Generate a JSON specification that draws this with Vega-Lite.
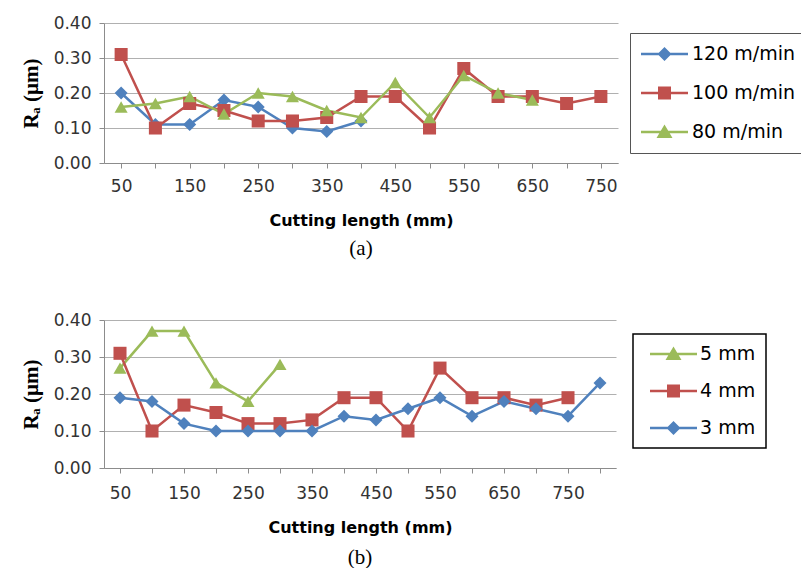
{
  "$schema": "https://vega.github.io/schema/vega-lite/v6.json",
  "background": "white",
  "padding": {"left": 20, "top": 14, "right": 0, "bottom": 0},
  "spacing": 52,
  "config": {
    "view": {"stroke": null},
    "axis": {
      "labelFont": "DejaVu Sans", "labelFontSize": 17, "labelColor": "#333333",
      "domainColor": "#8c8c8c", "tickColor": "#8c8c8c", "tickSize": 5,
      "gridColor": "#b0b0b0", "titleColor": "black"
    },
    "legend": {"symbolStrokeWidth": 0, "symbolOpacity": 1},
    "title": {"font": "Liberation Serif", "fontSize": 21, "fontWeight": "normal", "color": "black"}
  },
  "resolve": {"scale": {"color": "independent", "shape": "independent"}, "legend": {"color": "independent", "shape": "independent"}},
  "vconcat": [
    {
      "width": 514, "height": 140,
      "title": {"text": "(a)", "orient": "bottom", "offset": 10, "anchor": "middle"},
      "data": {"values": [
        {"len": 50, "series": "120 m/min", "ra": 0.20},
        {"len": 100, "series": "120 m/min", "ra": 0.11},
        {"len": 150, "series": "120 m/min", "ra": 0.11},
        {"len": 200, "series": "120 m/min", "ra": 0.18},
        {"len": 250, "series": "120 m/min", "ra": 0.16},
        {"len": 300, "series": "120 m/min", "ra": 0.10},
        {"len": 350, "series": "120 m/min", "ra": 0.09},
        {"len": 400, "series": "120 m/min", "ra": 0.12},
        {"len": 50, "series": "100 m/min", "ra": 0.31},
        {"len": 100, "series": "100 m/min", "ra": 0.10},
        {"len": 150, "series": "100 m/min", "ra": 0.17},
        {"len": 200, "series": "100 m/min", "ra": 0.15},
        {"len": 250, "series": "100 m/min", "ra": 0.12},
        {"len": 300, "series": "100 m/min", "ra": 0.12},
        {"len": 350, "series": "100 m/min", "ra": 0.13},
        {"len": 400, "series": "100 m/min", "ra": 0.19},
        {"len": 450, "series": "100 m/min", "ra": 0.19},
        {"len": 500, "series": "100 m/min", "ra": 0.10},
        {"len": 550, "series": "100 m/min", "ra": 0.27},
        {"len": 600, "series": "100 m/min", "ra": 0.19},
        {"len": 650, "series": "100 m/min", "ra": 0.19},
        {"len": 700, "series": "100 m/min", "ra": 0.17},
        {"len": 750, "series": "100 m/min", "ra": 0.19},
        {"len": 50, "series": "80 m/min", "ra": 0.16},
        {"len": 100, "series": "80 m/min", "ra": 0.17},
        {"len": 150, "series": "80 m/min", "ra": 0.19},
        {"len": 200, "series": "80 m/min", "ra": 0.14},
        {"len": 250, "series": "80 m/min", "ra": 0.20},
        {"len": 300, "series": "80 m/min", "ra": 0.19},
        {"len": 350, "series": "80 m/min", "ra": 0.15},
        {"len": 400, "series": "80 m/min", "ra": 0.13},
        {"len": 450, "series": "80 m/min", "ra": 0.23},
        {"len": 500, "series": "80 m/min", "ra": 0.13},
        {"len": 550, "series": "80 m/min", "ra": 0.25},
        {"len": 600, "series": "80 m/min", "ra": 0.20},
        {"len": 650, "series": "80 m/min", "ra": 0.18}
      ]},
      "encoding": {
        "x": {"field": "len", "type": "ordinal", "sort": null,
          "scale": {"type": "point", "padding": 0.5, "domain": [50,100,150,200,250,300,350,400,450,500,550,600,650,700,750]},
          "axis": {"title": "Cutting length (mm)", "titleFont": "DejaVu Sans", "titleFontSize": 16, "titleFontWeight": "bold", "titlePadding": 18,
            "labelAngle": 0, "labelPadding": 10, "labelExpr": "datum.value % 100 == 50 ? datum.label : ''"}},
        "y": {"field": "ra", "type": "quantitative",
          "scale": {"domain": [0, 0.4], "nice": false},
          "axis": {"title": "Rₐ (µm)", "titleFont": "Liberation Serif", "titleFontSize": 21, "titleFontWeight": "bold", "titlePadding": 12,
            "values": [0, 0.1, 0.2, 0.3, 0.4], "format": ".2f", "labelPadding": 8, "grid": true}},
        "color": {"field": "series", "type": "nominal",
          "scale": {"domain": ["120 m/min", "100 m/min", "80 m/min"], "range": ["#4F81BD", "#C0504D", "#9BBB59"]},
          "legend": {"title": null, "orient": "none", "legendX": 526, "legendY": 10, "padding": 11,
            "strokeColor": "#555555", "fillColor": "white", "labelFont": "DejaVu Sans", "labelFontSize": 19, "labelColor": "black",
            "symbolSize": 400, "labelOffset": 31, "rowPadding": 19}}
      },
      "layer": [
        {"mark": {"type": "line", "strokeWidth": 2.5}},
        {"mark": {"type": "point", "filled": true, "opacity": 1, "shape": "diamond", "size": 170},
          "transform": [{"filter": "datum.series === '120 m/min'"}]},
        {"mark": {"type": "point", "filled": true, "opacity": 1, "shape": "square", "size": 170},
          "transform": [{"filter": "datum.series === '100 m/min'"}]},
        {"mark": {"type": "point", "filled": true, "opacity": 1, "shape": "triangle-up", "size": 170},
          "transform": [{"filter": "datum.series === '80 m/min'"}]},
        {"mark": {"type": "point", "filled": true},
          "transform": [{"filter": "datum.len < 0"}],
          "encoding": {
            "shape": {"field": "series", "type": "nominal", "legend": null,
              "scale": {"domain": ["120 m/min", "100 m/min", "80 m/min"], "range": [
                "M-1,-0.13H3.7V0.13H-1ZM1.35,-0.7L2.05,0L1.35,0.7L0.65,0Z",
                "M-1,-0.13H3.7V0.13H-1ZM0.7,-0.65H2V0.65H0.7Z",
                "M-1,-0.13H3.7V0.13H-1ZM1.35,-0.75L2.15,0.6H0.55Z"]}}
          }}
      ]
    },
    {
      "width": 512, "height": 148,
      "title": {"text": "(b)", "orient": "bottom", "offset": 12, "anchor": "middle"},
      "data": {"values": [
        {"len": 50, "series": "5 mm", "ra": 0.27},
        {"len": 100, "series": "5 mm", "ra": 0.37},
        {"len": 150, "series": "5 mm", "ra": 0.37},
        {"len": 200, "series": "5 mm", "ra": 0.23},
        {"len": 250, "series": "5 mm", "ra": 0.18},
        {"len": 300, "series": "5 mm", "ra": 0.28},
        {"len": 50, "series": "4 mm", "ra": 0.31},
        {"len": 100, "series": "4 mm", "ra": 0.10},
        {"len": 150, "series": "4 mm", "ra": 0.17},
        {"len": 200, "series": "4 mm", "ra": 0.15},
        {"len": 250, "series": "4 mm", "ra": 0.12},
        {"len": 300, "series": "4 mm", "ra": 0.12},
        {"len": 350, "series": "4 mm", "ra": 0.13},
        {"len": 400, "series": "4 mm", "ra": 0.19},
        {"len": 450, "series": "4 mm", "ra": 0.19},
        {"len": 500, "series": "4 mm", "ra": 0.10},
        {"len": 550, "series": "4 mm", "ra": 0.27},
        {"len": 600, "series": "4 mm", "ra": 0.19},
        {"len": 650, "series": "4 mm", "ra": 0.19},
        {"len": 700, "series": "4 mm", "ra": 0.17},
        {"len": 750, "series": "4 mm", "ra": 0.19},
        {"len": 50, "series": "3 mm", "ra": 0.19},
        {"len": 100, "series": "3 mm", "ra": 0.18},
        {"len": 150, "series": "3 mm", "ra": 0.12},
        {"len": 200, "series": "3 mm", "ra": 0.10},
        {"len": 250, "series": "3 mm", "ra": 0.10},
        {"len": 300, "series": "3 mm", "ra": 0.10},
        {"len": 350, "series": "3 mm", "ra": 0.10},
        {"len": 400, "series": "3 mm", "ra": 0.14},
        {"len": 450, "series": "3 mm", "ra": 0.13},
        {"len": 500, "series": "3 mm", "ra": 0.16},
        {"len": 550, "series": "3 mm", "ra": 0.19},
        {"len": 600, "series": "3 mm", "ra": 0.14},
        {"len": 650, "series": "3 mm", "ra": 0.18},
        {"len": 700, "series": "3 mm", "ra": 0.16},
        {"len": 750, "series": "3 mm", "ra": 0.14},
        {"len": 800, "series": "3 mm", "ra": 0.23}
      ]},
      "encoding": {
        "x": {"field": "len", "type": "ordinal", "sort": null,
          "scale": {"type": "point", "padding": 0.5, "domain": [50,100,150,200,250,300,350,400,450,500,550,600,650,700,750,800]},
          "axis": {"title": "Cutting length (mm)", "titleFont": "DejaVu Sans", "titleFontSize": 16, "titleFontWeight": "bold", "titlePadding": 18,
            "labelAngle": 0, "labelPadding": 12, "labelExpr": "datum.value % 100 == 50 ? datum.label : ''"}},
        "y": {"field": "ra", "type": "quantitative",
          "scale": {"domain": [0, 0.4], "nice": false},
          "axis": {"title": "Rₐ (µm)", "titleFont": "Liberation Serif", "titleFontSize": 21, "titleFontWeight": "bold", "titlePadding": 12,
            "values": [0, 0.1, 0.2, 0.3, 0.4], "format": ".2f", "labelPadding": 8, "grid": true}},
        "color": {"field": "series", "type": "nominal",
          "scale": {"domain": ["5 mm", "4 mm", "3 mm"], "range": ["#9BBB59", "#C0504D", "#4F81BD"]},
          "legend": {"title": null, "orient": "none", "legendX": 529, "legendY": 14, "padding": 10,
            "strokeColor": "black", "fillColor": "white", "labelFont": "DejaVu Sans", "labelFontSize": 19, "labelColor": "black",
            "symbolSize": 400, "labelOffset": 37, "rowPadding": 17,
            "encode": {"legend": {"update": {"strokeWidth": {"value": 1.5}}}}}}
      },
      "layer": [
        {"mark": {"type": "line", "strokeWidth": 2.5}},
        {"mark": {"type": "point", "filled": true, "opacity": 1, "shape": "triangle-up", "size": 170},
          "transform": [{"filter": "datum.series === '5 mm'"}]},
        {"mark": {"type": "point", "filled": true, "opacity": 1, "shape": "square", "size": 170},
          "transform": [{"filter": "datum.series === '4 mm'"}]},
        {"mark": {"type": "point", "filled": true, "opacity": 1, "shape": "diamond", "size": 170},
          "transform": [{"filter": "datum.series === '3 mm'"}]},
        {"mark": {"type": "point", "filled": true},
          "transform": [{"filter": "datum.len < 0"}],
          "encoding": {
            "shape": {"field": "series", "type": "nominal", "legend": null,
              "scale": {"domain": ["5 mm", "4 mm", "3 mm"], "range": [
                "M-0.3,-0.13H4.4V0.13H-0.3ZM2.05,-0.75L2.85,0.6H1.25Z",
                "M-0.3,-0.13H4.4V0.13H-0.3ZM1.4,-0.65H2.7V0.65H1.4Z",
                "M-0.3,-0.13H4.4V0.13H-0.3ZM2.05,-0.7L2.75,0L2.05,0.7L1.35,0Z"]}}
          }}
      ]
    }
  ]
}
